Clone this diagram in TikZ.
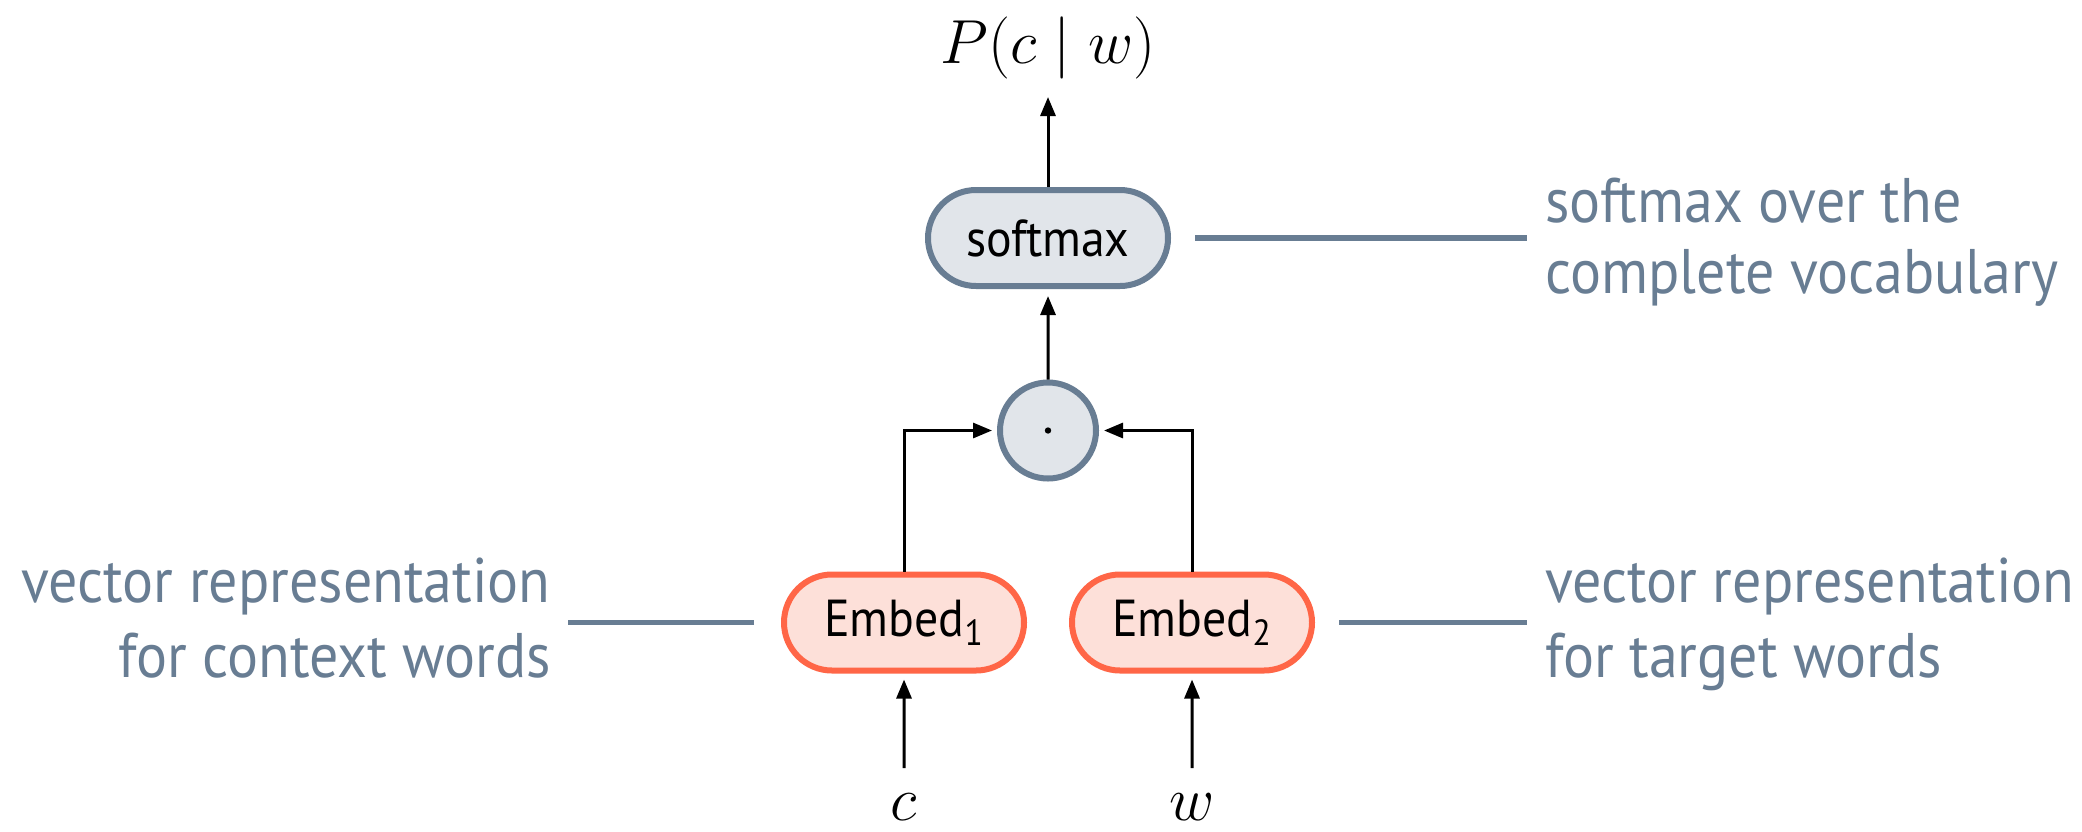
\documentclass[tikz,border=0pt]{standalone}
\usepackage{graphicx}
\usepackage[no-math]{fontspec}
\setmainfont[FakeStretch=0.92]{PT Sans}
\usetikzlibrary{arrows.meta,shapes.misc}

\definecolor{slate}{HTML}{687D93}
\definecolor{slatefill}{HTML}{E1E5EA}
\definecolor{embedline}{HTML}{FF6647}
\definecolor{embedfill}{HTML}{FDE0D9}

% math set at a size the Computer Modern fonts provide, then scaled up
\newcommand{\bigmath}[1]{{\fontsize{24.88}{30}\selectfont\scalebox{1.25}{$#1$}}}

\tikzset{
  pill/.style={rounded rectangle, line width=3pt, inner sep=0pt,
    minimum width=120pt, minimum height=48pt,
    font=\fontsize{26}{30}\selectfont},
  graypill/.style={pill, draw=slate, fill=slatefill},
  embedpill/.style={pill, draw=embedline, fill=embedfill},
  opnode/.style={circle, draw=slate, fill=slatefill, line width=3pt,
    minimum size=48pt, inner sep=0pt},
  arr/.style={-{Triangle[length=9.5pt,width=7.5pt]}, line width=1.5pt, black},
  leader/.style={draw=slate, line width=2.6pt},
  note/.style={text=slate, inner sep=0pt},
  mathlabel/.style={inner sep=0pt},
}

\begin{document}
\begin{tikzpicture}[x=0.5pt, y=-0.5pt]
  \useasboundingbox (0,0) rectangle (2082,831);

  % network
  \node[mathlabel, anchor=base] (out) at (1048,63)
    {\bigmath{P(c\mskip5mu|\mskip5mu w)}};
  \node[graypill] (soft) at (1048,238) {softmax};
  \node[opnode] (dot) at (1048,430.5) {};
  \fill (dot.center) circle (1.6pt);
  \node[embedpill] (e1) at (904,622.5) {Embed\textsubscript{1}};
  \node[embedpill] (e2) at (1192,622.5) {Embed\textsubscript{2}};
  \node[mathlabel, anchor=base] (cw) at (904,820) {\bigmath{c}};
  \node[mathlabel, anchor=base] (ww) at (1192,820) {\bigmath{w}};

  \coordinate (ptop) at (1048,97);
  \coordinate (cin) at (904,768);
  \coordinate (win) at (1192,768);

  % connectors
  \draw[arr] (soft.north) -- (ptop);
  \draw[arr, shorten >=3.5pt] (dot) -- (soft);
  \draw[arr, shorten >=2.5pt] (e1.north) |- (dot.west);
  \draw[arr, shorten >=2.5pt] (e2.north) |- (dot.east);
  \draw[arr, shorten >=3pt] (cin) -- (e1);
  \draw[arr, shorten >=3pt] (win) -- (e2);

  % annotations
  \node[note, anchor=base west] (softnote) at (1545,222)
    {\fontsize{31.5}{35.5}\selectfont
     \begin{tabular}[t]{@{}l@{}}softmax over the\\complete vocabulary\end{tabular}};
  \node[note, anchor=base east] (ctxnote) at (551,602)
    {\fontsize{31.5}{37.5}\selectfont
     \begin{tabular}[t]{@{}r@{}}vector representation\\for context words\end{tabular}};
  \node[note, anchor=base west] (tgtnote) at (1545,602)
    {\fontsize{31.5}{37.5}\selectfont
     \begin{tabular}[t]{@{}l@{}}vector representation\\for target words\end{tabular}};

  \draw[leader] ([xshift=12pt]soft.east) -- ([xshift=-9pt]softnote.west |- soft.east);
  \draw[leader] ([xshift=-13.5pt]e1.west) -- ([xshift=8.5pt]ctxnote.east |- e1.west);
  \draw[leader] ([xshift=12pt]e2.east) -- ([xshift=-9pt]tgtnote.west |- e2.east);
\end{tikzpicture}
\end{document}
